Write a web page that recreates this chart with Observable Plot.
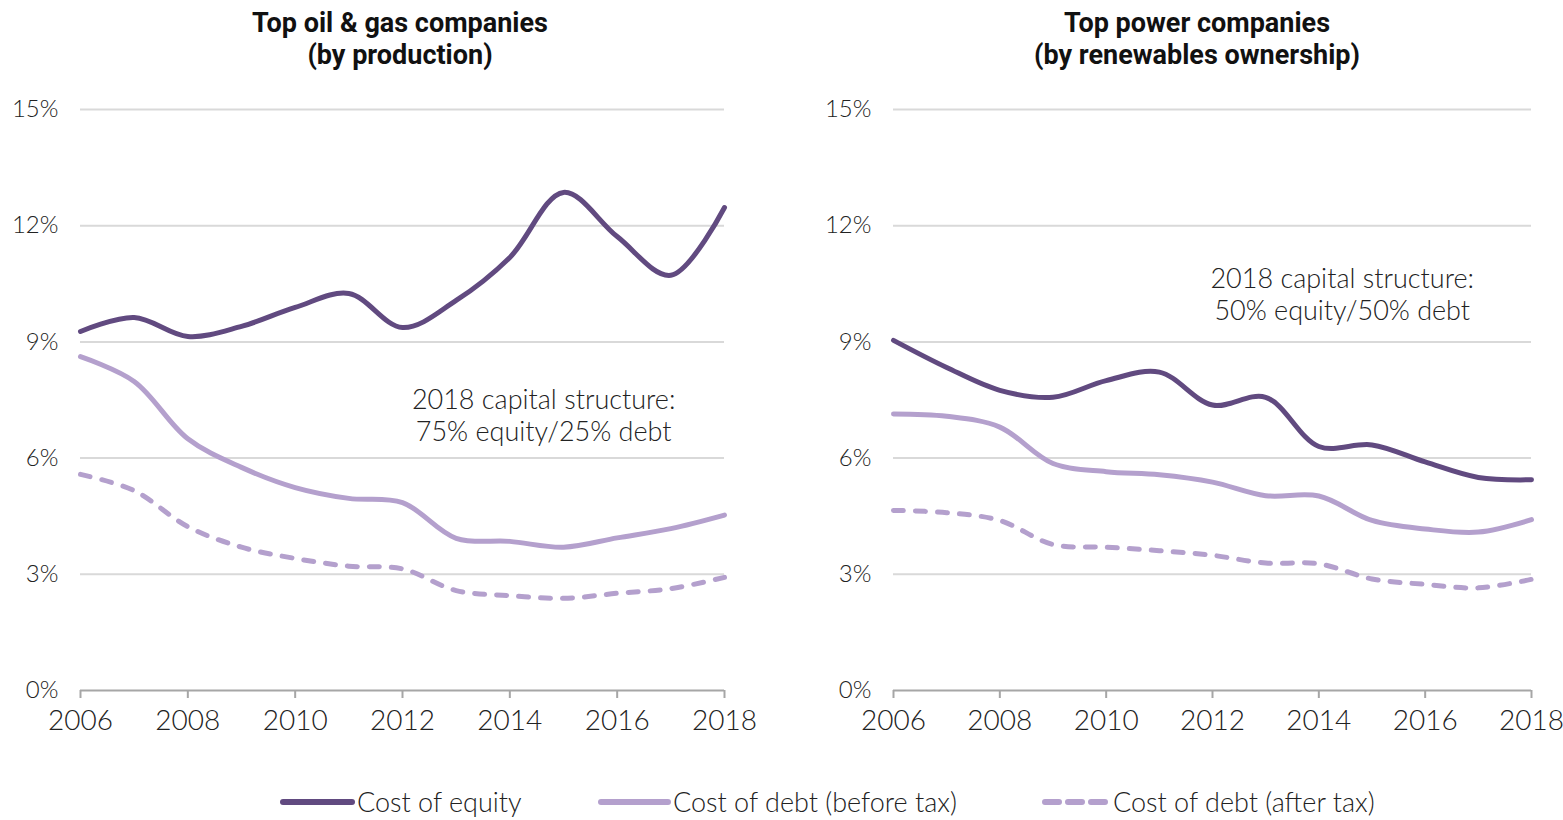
<!DOCTYPE html>
<html>
<head>
<meta charset="utf-8">
<script src="https://cdn.jsdelivr.net/npm/d3@7"></script>
<script src="https://cdn.jsdelivr.net/npm/@observablehq/plot@0.6"></script>
<style>
  body { margin: 0; background: #fff; font-family: Lato, "Open Sans", sans-serif; }
  #root { position: relative; width: 1563px; height: 820px; overflow: hidden; }
  .title { position: absolute; top: 7px; width: 600px; text-align: center; font-family: Roboto, sans-serif; font-weight: 700;
           font-size: 27px; line-height: 32px; color: #111; }
  .panel { position: absolute; top: 80px; }
  .legend-item { position: absolute; top: 787px; height: 30px; display: flex; align-items: center;
                 font-size: 27px; font-weight: 300; color: #222; white-space: nowrap; line-height: 30px; }
  .legend-item svg { margin-right: 1px; }
</style>
</head>
<body>
<div id="root">
  <div class="title" id="t0" style="left:100px"></div>
  <div class="title" id="t1" style="left:897px"></div>
  <div class="panel" id="p0" style="left:0px;width:780px"></div>
  <div class="panel" id="p1" style="left:813px;width:750px"></div>
  <div id="legend"></div>
</div>
<script>
// ---- data ----
const years = [2006, 2007, 2008, 2009, 2010, 2011, 2012, 2013, 2014, 2015, 2016, 2017, 2018];
const xTicks = [2006, 2008, 2010, 2012, 2014, 2016, 2018];
const yTicks = [0, 3, 6, 9, 12, 15];

const panelTitles = ["Top oil & gas companies\n(by production)", "Top power companies\n(by renewables ownership)"];
const seriesNames = ["Cost of equity", "Cost of debt (before tax)", "Cost of debt (after tax)"];

// Oil & gas (%)
const oilEquity     = [9.27, 9.63, 9.14, 9.40, 9.89, 10.25, 9.37, 10.07, 11.18, 12.86, 11.72, 10.72, 12.47];
const oilDebtBefore = [8.62, 7.98, 6.50, 5.76, 5.24, 4.96, 4.85, 3.93, 3.85, 3.70, 3.94, 4.18, 4.53];
const oilDebtAfter  = [5.58, 5.16, 4.23, 3.70, 3.41, 3.21, 3.14, 2.58, 2.45, 2.38, 2.51, 2.63, 2.92];

// Power (%)
const powEquity     = [9.04, 8.34, 7.75, 7.57, 8.00, 8.22, 7.37, 7.57, 6.30, 6.34, 5.90, 5.50, 5.44];
const powDebtBefore = [7.14, 7.08, 6.80, 5.86, 5.65, 5.57, 5.38, 5.03, 5.02, 4.39, 4.17, 4.09, 4.41];
const powDebtAfter  = [4.65, 4.59, 4.39, 3.77, 3.70, 3.61, 3.49, 3.29, 3.27, 2.88, 2.74, 2.65, 2.87];

// annotations
const annotations = [
  {x: 2014.63, y: 7.13, text: "2018 capital structure:\n75% equity/25% debt"},
  {x: 2014.44, y: 10.25, text: "2018 capital structure:\n50% equity/50% debt"}
];

// ---- styles ----
const colors = ["#614a80", "#b4a0cd", "#b4a0cd"];
const dashes = [null, null, "10,12"];

function makeTable(eq, before, after) {
  const arrs = [eq, before, after];
  return arrs.flatMap((a, s) => years.map((yr, i) => ({year: yr, value: a[i], series: seriesNames[s]})));
}

function panel(eq, before, after, ann, width, marginRight) {
  const data = makeTable(eq, before, after);
  const lines = [2, 1, 0].map(s => Plot.line(data.filter(d => d.series === seriesNames[s]), {
    x: "year", y: "value", curve: "catmull-rom",
    stroke: colors[s], strokeWidth: 5, strokeLinecap: "round",
    strokeDasharray: dashes[s] ?? undefined
  }));
  return Plot.plot({
    width, height: 660,
    marginLeft: 80, marginRight, marginTop: 29, marginBottom: 50,
    style: {fontFamily: "Lato, 'Open Sans', sans-serif", fontWeight: 300, color: "#222", background: "transparent", overflow: "visible"},
    x: {domain: [2006, 2018]},
    y: {domain: [0, 15]},
    marks: [
      Plot.gridY(yTicks.filter(d => d > 0), {stroke: "#d9d9d9", strokeOpacity: 1, strokeWidth: 2}),
      Plot.axisY(yTicks, {tickSize: 0, tickPadding: 22, tickFormat: d => d + "%", fontSize: 24, fill: "#222", label: null}),
      Plot.ruleY([0], {stroke: "#a6a6a6", strokeWidth: 2}),
      Plot.axisX(xTicks, {tickSize: 8, tickPadding: 12, stroke: "#a6a6a6", strokeWidth: 2, strokeOpacity: 1,
                          fontSize: 28, fill: "#222", label: null, tickFormat: d => String(d)}),
      ...lines,
      Plot.text([ann], {x: "x", y: "y", text: "text", fontSize: 27, lineHeight: 1.2, fill: "#222", textAnchor: "middle"})
    ]
  });
}

document.getElementById("t0").innerText = panelTitles[0];
document.getElementById("t1").innerText = panelTitles[1];
document.getElementById("p0").append(panel(oilEquity, oilDebtBefore, oilDebtAfter, annotations[0], 780, 56));
document.getElementById("p1").append(panel(powEquity, powDebtBefore, powDebtAfter, annotations[1], 750, 32));

// legend
const legendLeft = [280, 598, 1042];
const swatchW = [72, 70, 66];
const legend = document.getElementById("legend");
seriesNames.forEach((name, s) => {
  const item = document.createElement("div");
  item.className = "legend-item";
  item.style.left = legendLeft[s] + "px";
  const w = swatchW[s];
  const svg = d3.create("svg").attr("width", w + 4).attr("height", 12);
  svg.append("line").attr("x1", 3).attr("x2", w).attr("y1", 6).attr("y2", 6)
    .attr("stroke", colors[s]).attr("stroke-width", 6).attr("stroke-linecap", "round")
    .attr("stroke-dasharray", dashes[s] ? "14,9" : null);
  item.append(svg.node());
  const span = document.createElement("span");
  span.textContent = name;
  item.append(span);
  legend.append(item);
});
</script>
</body>
</html>
